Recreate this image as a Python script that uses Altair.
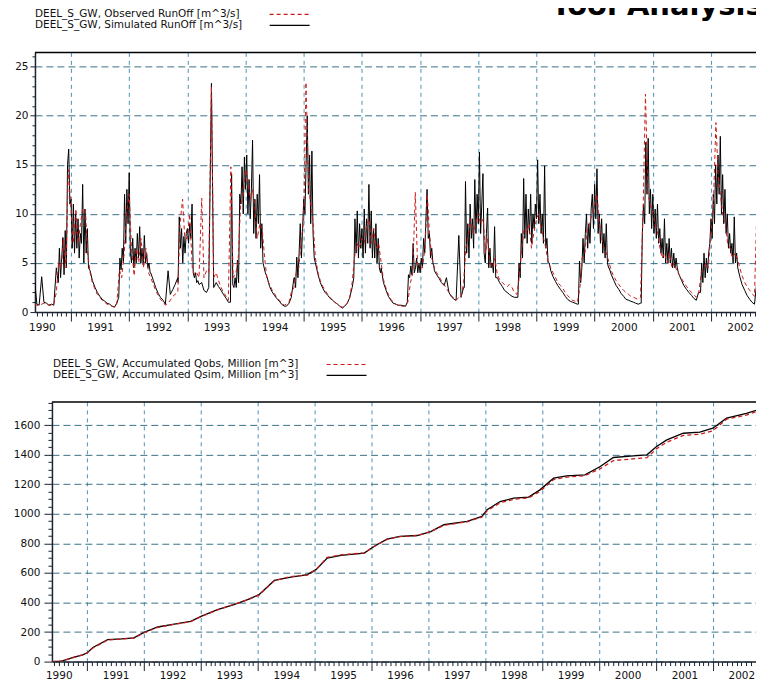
import altair as alt
import pandas as pd

# ---------------- data ----------------
# half-monthly samples (1st / 15th of each month) starting 15 May 1990
simulated_runoff = [
    # 1990 (May-Dec)
    3.6, 0.8, 0.7, 3.6, 1.0, 0.9, 0.7, 0.8, 0.7, 4.5, 6.5, 3.8, 8.3, 5.0, 16.6,
    # 1991
    11.5, 6.5, 10.5, 6.5, 9.5, 13.0, 5.0, 8.5, 4.2, 3.2, 2.5, 2.0, 1.6, 1.3, 1.1, 0.9, 0.8, 0.6, 0.5, 0.9, 5.5, 4.8, 7.0, 12.0,
    # 1992
    14.2, 6.0, 4.8, 7.5, 5.5, 8.7, 5.0, 7.8, 4.5, 4.0, 3.2, 2.5, 1.9, 1.5, 1.2, 0.8, 4.2, 1.8, 2.3, 2.8, 3.5, 9.7, 7.0, 8.0,
    # 1993
    8.5, 11.0, 4.0, 3.2, 3.0, 2.7, 3.0, 2.2, 2.0, 2.5, 23.3, 2.5, 3.0, 2.6, 2.2, 1.8, 1.4, 1.0, 14.1, 2.8, 2.5, 5.3, 12.0, 10.5,
    # 1994
    16.0, 12.0, 13.0, 9.0, 17.5, 8.0, 11.5, 14.0, 5.0, 3.6, 2.6, 2.1, 1.7, 1.4, 1.1, 0.8, 0.6, 0.6, 0.9, 1.5, 3.5, 5.6, 3.5, 9.0,
    # 1995
    11.5, 15.0, 20.0, 16.0, 8.0, 5.0, 3.8, 3.0, 2.4, 2.0, 1.7, 1.4, 1.2, 1.0, 0.8, 0.6, 0.4, 0.6, 0.9, 1.4, 2.5, 9.5, 5.5, 9.0,
    # 1996
    8.5, 6.0, 10.5, 13.0, 6.5, 10.0, 5.5, 8.5, 4.5, 3.0, 2.2, 1.6, 1.2, 0.9, 0.8, 0.7, 0.7, 0.65, 0.6, 1.2, 3.8, 4.5, 7.0, 4.5,
    # 1997
    4.0, 5.0, 7.5, 12.5, 7.5, 5.0, 4.2, 3.8, 3.4, 3.0, 2.7, 3.5, 2.0, 1.6, 1.3, 1.2, 7.8, 1.5, 2.5, 13.3, 6.0, 11.0, 7.5, 13.5,
    # 1998
    16.3, 8.0, 14.1, 5.0, 10.6, 4.5, 5.0, 8.7, 3.5, 3.0, 2.6, 2.2, 2.0, 1.8, 1.6, 1.5, 1.5, 5.0, 8.0, 13.6, 7.5, 12.0, 8.0, 10.5,
    # 1999
    15.5, 9.0, 12.0, 14.9, 6.0, 5.0, 4.2, 3.6, 3.1, 2.7, 2.3, 2.0, 1.6, 1.3, 1.1, 1.0, 0.9, 0.8, 5.2, 4.0, 7.5, 10.0, 7.0, 12.0,
    # 2000
    13.0, 14.6, 8.0, 9.5, 6.0, 9.0, 4.5, 3.8, 3.2, 2.7, 2.3, 1.9, 1.6, 1.3, 1.2, 1.1, 1.0, 0.9, 0.8, 0.9, 8.0, 17.3, 17.7, 10.0,
    # 2001
    12.0, 8.5, 11.0, 7.0, 6.0, 9.5, 5.5, 7.5, 5.0, 6.5, 4.5, 3.8, 3.2, 2.7, 2.3, 2.0, 1.7, 1.4, 1.2, 2.0, 5.0, 3.5, 6.0, 4.0,
    # 2002 (+ 1 Jan 2003)
    9.5, 12.0, 15.0, 11.0, 17.9, 9.0, 12.5, 8.0, 6.0, 5.0, 9.7, 4.5, 3.6, 2.8, 2.2, 1.7, 1.3, 1.0, 0.8, 3.0, 12.0, 9.0, 11.0, 8.0, 10.0,
]
observed_runoff = [
    0.8, 0.7, 0.7, 0.8, 0.9, 0.8, 0.7, 0.7, 0.8, 2.0, 5.0, 4.5, 7.5, 4.5, 14.5,
    10.5, 7.0, 10.5, 7.0, 9.0, 10.5, 10.5, 6.0, 4.0, 3.0, 2.3, 1.8, 1.5, 1.2, 1.0, 0.8, 0.7, 0.6, 0.5, 0.8, 4.3, 3.5, 6.0, 10.0,
    12.0, 6.5, 3.7, 6.5, 5.0, 7.5, 4.5, 6.5, 4.0, 3.5, 2.8, 2.2, 1.7, 1.3, 1.0, 0.7, 0.9, 1.2, 1.6, 1.8, 2.0, 9.0, 11.5, 7.5,
    7.5, 10.0, 4.5, 3.8, 4.0, 3.5, 11.6, 3.5, 4.2, 4.0, 23.0, 3.5, 4.0, 3.2, 2.5, 2.0, 1.6, 1.2, 14.8, 3.5, 4.0, 5.0, 11.0, 11.5,
    14.5, 13.5, 11.5, 12.5, 10.5, 7.5, 9.0, 8.5, 5.5, 3.4, 2.8, 2.3, 1.9, 1.5, 1.2, 0.9, 0.7, 0.8, 1.0, 2.0, 2.5, 4.0, 4.5, 7.0,
    9.5, 23.4, 12.5, 11.0, 9.0, 5.5, 4.0, 3.2, 2.6, 2.2, 1.8, 1.5, 1.2, 1.0, 0.8, 0.6, 0.5, 0.6, 0.9, 1.3, 3.0, 5.5, 7.0, 6.5,
    7.5, 7.0, 9.0, 9.5, 7.0, 8.5, 6.5, 7.0, 5.0, 3.3, 2.4, 1.8, 1.3, 1.0, 0.8, 0.7, 0.6, 0.6, 0.6, 1.0, 3.0, 4.0, 12.2, 5.0,
    4.5, 4.5, 6.5, 12.0, 8.0, 5.5, 4.5, 4.0, 3.6, 3.2, 2.8, 2.4, 2.0, 1.7, 1.4, 1.2, 1.5, 1.5, 3.0, 6.5, 8.0, 9.5, 8.0, 9.0,
    10.0, 9.0, 9.5, 6.0, 7.5, 5.0, 4.5, 5.5, 3.8, 3.3, 3.0, 2.8, 2.6, 2.8, 2.5, 2.0, 1.8, 3.5, 6.5, 8.5, 8.0, 9.0, 6.5, 8.0,
    9.5, 10.0, 8.5, 7.5, 6.5, 5.0, 4.5, 4.0, 3.5, 3.0, 2.7, 2.4, 2.0, 1.7, 1.4, 1.2, 1.1, 1.0, 2.5, 5.5, 6.0, 8.5, 9.0, 10.0,
    11.0, 12.0, 9.0, 7.5, 6.5, 6.0, 5.0, 4.2, 3.6, 3.2, 2.8, 2.5, 2.2, 2.0, 1.8, 1.6, 1.5, 1.4, 1.3, 1.5, 11.0, 22.2, 12.0, 11.0,
    10.0, 9.0, 8.0, 6.5, 5.5, 6.0, 5.0, 6.0, 4.5, 5.0, 4.2, 3.8, 3.4, 3.0, 2.6, 2.3, 2.0, 1.8, 1.5, 1.8, 4.0, 4.5, 5.0, 4.5,
    8.0, 10.5, 19.3, 14.0, 12.0, 10.0, 9.0, 7.0, 6.5, 5.5, 6.0, 5.5, 4.5, 3.7, 3.0, 2.6, 2.2, 1.9, 1.6, 10.0, 15.0, 12.0, 13.0, 10.0, 11.0,
]

# winter high-flow periods of the simulated series, read at ~weekly detail
# (start as decimal year, then one value every 0.02 year)
detail_starts = [1990.78, 1991.82, 1992.84, 1993.74, 1994.84, 1995.86,
                 1996.78, 1997.76, 1998.68, 1999.72, 2000.80, 2001.82]
detail_values = [
    [3.0, 6.5, 3.5, 5.5, 7.6, 3.8, 8.3, 4.5, 15.0, 16.6, 11.0, 11.5, 6.5, 11.0, 6.0, 10.0, 6.5, 9.5,
     5.5, 8.0, 7.0, 13.0, 5.0, 10.5, 6.0, 8.5, 4.5],
    [1.5, 5.5, 4.3, 6.5, 5.0, 12.0, 7.0, 12.5, 9.0, 14.2, 6.0, 5.0, 7.5, 4.5, 6.5, 5.0, 8.0, 5.5,
     8.7, 5.0, 6.5, 4.8, 7.8, 5.0, 6.0, 4.5, 5.0, 4.0],
    [3.0, 9.7, 6.5, 8.5, 5.0, 7.7, 6.0, 8.0, 8.5, 7.0, 9.0, 7.5, 11.0, 4.0, 3.5, 4.0, 3.0, 3.2, 2.8],
    [1.0, 14.1, 2.8, 2.5, 3.5, 2.5, 5.3, 3.0, 12.0, 11.0, 14.8, 10.0, 15.8, 12.5, 16.0, 10.0, 13.5,
     9.5, 12.5, 17.5, 8.0, 11.5, 7.5, 12.0, 9.0, 14.0, 6.5, 9.0, 5.0, 4.5, 4.0],
    [3.5, 2.5, 5.6, 3.5, 6.0, 9.0, 5.5, 8.5, 11.5, 10.0, 15.0, 20.0, 12.0, 16.0, 9.0, 16.4, 8.0, 5.5, 5.0],
    [3.5, 9.5, 6.0, 10.3, 5.5, 9.0, 6.5, 8.5, 5.5, 10.5, 6.0, 9.5, 7.0, 13.0, 6.5, 10.3, 5.5, 8.5,
     5.5, 9.0, 5.0, 7.5, 4.5, 4.0],
    [1.0, 3.8, 3.5, 4.7, 3.8, 7.0, 4.0, 4.5, 5.5, 4.0, 5.0, 4.0, 5.5, 4.5, 7.5, 6.0, 9.5, 12.5,
     7.5, 8.0, 5.5, 6.5, 5.0, 4.5],
    [2.5, 13.3, 6.0, 9.0, 5.5, 11.0, 7.5, 9.5, 6.5, 13.5, 8.0, 12.0, 9.0, 16.3, 8.0, 11.0, 14.1, 6.0,
     5.0, 8.0, 10.6, 4.5, 6.5, 4.5, 5.0, 4.0, 8.7, 3.5],
    [1.5, 5.0, 3.5, 8.0, 5.5, 13.6, 7.5, 12.0, 7.0, 10.5, 8.0, 12.0, 7.0, 10.0, 8.5, 11.0, 9.5, 15.5,
     9.0, 12.0, 8.0, 10.0, 7.0, 14.9, 6.5, 7.5, 5.0, 5.0],
    [0.8, 5.2, 3.0, 4.5, 7.5, 5.0, 8.0, 10.0, 6.5, 9.0, 7.0, 10.5, 12.0, 8.5, 13.0, 9.5, 14.6, 8.0,
     10.0, 7.0, 9.5, 6.0, 8.0, 5.5, 9.0, 5.0, 4.5],
    [0.9, 8.0, 11.0, 9.0, 17.3, 12.0, 17.7, 10.0, 12.5, 8.5, 12.0, 8.0, 10.5, 7.5, 11.0, 7.0, 8.5,
     6.0, 7.5, 5.5, 9.5, 5.0, 7.0, 5.0, 7.5, 5.0, 6.5, 4.5, 6.0, 4.5, 5.5, 4.5, 4.0],
    [2.0, 5.0, 3.0, 6.0, 3.5, 5.5, 4.0, 6.0, 7.0, 9.5, 7.5, 12.0, 9.0, 15.0, 11.0, 16.0, 12.0, 17.9,
     10.0, 14.0, 9.0, 12.5, 8.0, 10.0, 6.5, 8.0, 6.0, 7.0, 5.0, 9.7, 5.0, 6.0, 4.5],
]
DETAIL_STEP = 0.02

# accumulated volumes, million m^3 (decimal years)
acc_years = [1990.38, 1990.55, 1990.77, 1990.92, 1991.00, 1991.10, 1991.36, 1991.60, 1991.82,
             1992.00, 1992.24, 1992.53, 1992.82, 1993.00, 1993.29, 1993.58, 1993.82,
             1994.02, 1994.29, 1994.58, 1994.87, 1995.02, 1995.22, 1995.46, 1995.87,
             1996.04, 1996.27, 1996.50, 1996.80, 1997.04, 1997.27, 1997.68, 1997.94,
             1998.03, 1998.26, 1998.50, 1998.76, 1998.96, 1999.20, 1999.43, 1999.75,
             2000.02, 2000.25, 2000.60, 2000.84, 2001.01, 2001.19, 2001.48, 2001.77,
             2002.00, 2002.24, 2002.59, 2002.88]
acc_sim = [0, 3, 30, 45, 60, 95, 148, 153, 160, 198, 234, 254, 272, 306, 351, 385, 419,
           453, 549, 572, 588, 622, 700, 718, 734, 779, 829, 847, 853, 880, 926, 948, 982,
           1027, 1083, 1106, 1113, 1162, 1241, 1257, 1264, 1320, 1381, 1392, 1399,
           1455, 1500, 1545, 1552, 1579, 1647, 1680, 1714]
acc_obs = [0, 3, 28, 45, 58, 92, 146, 152, 159, 195, 232, 252, 270, 304, 350, 388, 418,
           450, 548, 575, 585, 620, 705, 722, 736, 777, 827, 846, 852, 880, 922, 946, 978,
           1020, 1075, 1098, 1108, 1152, 1232, 1248, 1258, 1305, 1360, 1372, 1380,
           1440, 1485, 1530, 1538, 1562, 1640, 1668, 1708]

top_legend_labels = ["DEEL_S_GW, Observed RunOff [m^3/s]", "DEEL_S_GW, Simulated RunOff [m^3/s]"]
bottom_legend_labels = ["DEEL_S_GW, Accumulated Qobs, Million [m^3]",
                        "DEEL_S_GW, Accumulated Qsim, Million [m^3]"]
title_lines = ["Tool Analysis", "D"]

# ---------------- tables ----------------
dates = pd.date_range("1990-05-15", periods=len(simulated_runoff), freq="SMS")
dec_year = dates.year + (dates.dayofyear - 1) / 365.25
obs_df = pd.DataFrame({"t": dec_year, "v": observed_runoff})

sim_base = pd.DataFrame({"t": dec_year, "v": simulated_runoff})
keep = pd.Series(True, index=sim_base.index)
parts = []
for start, vals in zip(detail_starts, detail_values):
    end = start + DETAIL_STEP * (len(vals) - 1)
    keep &= ~((sim_base["t"] >= start - 1e-6) & (sim_base["t"] <= end + 1e-6))
    parts.append(pd.DataFrame({"t": [start + DETAIL_STEP * k for k in range(len(vals))], "v": vals}))
sim_df = pd.concat([sim_base[keep]] + parts).sort_values("t").reset_index(drop=True)

bot_df = pd.DataFrame({"t": acc_years, "obs": acc_obs, "sim": acc_sim})
one = pd.DataFrame({"k": [0]})

# ---------------- style ----------------
FONT = "DejaVu Sans"
RED = "#cc1a1a"
AXIS = "#1c2430"
HGRID = "#3a7186"
VGRID = "#4a93b8"
X_DOMAIN = [1990.38, 2003.46]
W, PH = 762, 260
BOT_SHIFT = 17          # bottom plot starts 17 px further right

month_vals = [round(1990 + k / 12, 4) for k in range(5, 162)]
IS_YEAR = "abs(datum.value - round(datum.value)) < 0.01"
IS_MID = "abs(datum.value - floor(datum.value) - 0.5) < 0.01"


def x_axis(label_pad):
    return alt.Axis(
        values=month_vals, title=None,
        labelExpr=f"({IS_MID}) ? '' + floor(datum.value) : ''",
        tickSize={"condition": {"test": IS_YEAR, "value": 9}, "value": 4},
        grid=True, gridColor=VGRID, gridDash=[4, 4], gridWidth=1,
        gridOpacity={"condition": {"test": IS_YEAR, "value": 1}, "value": 0},
        labelPadding=label_pad, labelOverlap=False, labelFlush=False,
        domainColor=AXIS, domainWidth=1.5, tickColor=AXIS, tickWidth=1,
        labelFont=FONT, labelFontSize=10.5, labelColor="#111111",
    )


def y_axis(vals, major, big, small, pad, min_extent, offset=0):
    test = f"datum.value % {major} == 0"
    return alt.Axis(
        values=vals, title=None, offset=offset,
        labelExpr=f"({test}) ? '' + datum.value : ''",
        tickSize={"condition": {"test": test, "value": big}, "value": small},
        grid=True, gridColor=HGRID, gridDash=[7, 4], gridWidth=1,
        gridOpacity={"condition": {"test": test, "value": 1}, "value": 0},
        labelPadding=pad, labelOverlap=False, labelFlush=False, minExtent=min_extent,
        domainColor=AXIS, domainWidth=1.5, tickColor=AXIS, tickWidth=1,
        labelFont=FONT, labelFontSize=10.5, labelColor="#111111",
    )


def legend_layers(labels, text_x, sample_x0, sample_x1, ys):
    layers = []
    for lab, yy, col, dash in zip(labels, ys, [RED, "black"], [[4, 3], [1, 0]]):
        layers.append(
            alt.Chart(pd.DataFrame({"label": [lab]})).mark_text(
                align="left", baseline="middle", font=FONT, fontSize=10.5, color="#111111"
            ).encode(text="label:N", x=alt.value(text_x), y=alt.value(yy))
        )
        layers.append(
            alt.Chart(one).mark_rule(color=col, strokeWidth=1.2, strokeDash=dash).encode(
                x=alt.value(sample_x0), x2=alt.value(sample_x1), y=alt.value(yy)
            )
        )
    return layers


# ---------------- top panel ----------------
x_top = alt.X("t:Q", scale=alt.Scale(domain=X_DOMAIN, nice=False, zero=False), axis=x_axis(6))
y_top_scale = alt.Scale(domain=[0, 26.45], nice=False, zero=True)
y_top_axis = y_axis(list(range(0, 27)), 5, 5, 3, 2, 25)

sim_top = alt.Chart(sim_df).mark_line(color="black", strokeWidth=1, clip=True).encode(
    x=x_top, y=alt.Y("v:Q", scale=y_top_scale, axis=y_top_axis))
obs_top = alt.Chart(obs_df).mark_line(color=RED, strokeWidth=1, strokeDash=[4, 3], clip=True).encode(
    x=x_top, y=alt.Y("v:Q", scale=y_top_scale, axis=y_top_axis))
border_top = alt.Chart(one).mark_rule(color="black", strokeWidth=1.5).encode(
    x=alt.value(0), x2=alt.value(W), y=alt.value(0))
title1 = alt.Chart(pd.DataFrame({"t": [title_lines[0]]})).mark_text(
    align="left", baseline="alphabetic", font=FONT, fontSize=29, fontWeight="bold", color="black"
).encode(text="t:N", x=alt.value(517), y=alt.value(-37))
title2 = alt.Chart(pd.DataFrame({"t": [title_lines[1]]})).mark_text(
    align="left", baseline="alphabetic", font=FONT, fontSize=21, fontWeight="bold", color="black"
).encode(text="t:N", x=alt.value(722), y=alt.value(-19))

top = alt.layer(
    sim_top, obs_top, border_top, title1, title2,
    *legend_layers(top_legend_labels, 0, 235, 275, [-38, -27]),
).properties(width=W, height=PH)

# ---------------- bottom panel ----------------
x_bot = alt.X("t:Q", scale=alt.Scale(domain=X_DOMAIN, range=[BOT_SHIFT, W], nice=False, zero=False),
              axis=x_axis(5))
y_bot_scale = alt.Scale(domain=[0, 1757], nice=False, zero=True)
y_bot_axis = y_axis(list(range(0, 1751, 50)), 200, 8, 4, 4, 0, offset=-BOT_SHIFT)

sim_bot = alt.Chart(bot_df).mark_line(color="black", strokeWidth=1.3, clip=True).encode(
    x=x_bot, y=alt.Y("sim:Q", scale=y_bot_scale, axis=y_bot_axis))
obs_bot = alt.Chart(bot_df).mark_line(color=RED, strokeWidth=1.3, strokeDash=[4, 3], clip=True).encode(
    x=x_bot, y=alt.Y("obs:Q", scale=y_bot_scale, axis=y_bot_axis))
border_bot = alt.Chart(one).mark_rule(color="black", strokeWidth=1.5).encode(
    x=alt.value(BOT_SHIFT), x2=alt.value(W), y=alt.value(0))

bottom = alt.layer(
    sim_bot, obs_bot, border_bot,
    *legend_layers(bottom_legend_labels, 18, 292, 332, [-37.5, -26.5]),
).properties(width=W, height=PH)

chart = alt.vconcat(top, bottom, spacing=21).properties(
    padding={"left": 2, "top": -16, "right": -41, "bottom": 0},
    background="white",
).configure_view(stroke=None)

chart.save("out.html", embed_options={"renderer": "svg", "actions": False})
